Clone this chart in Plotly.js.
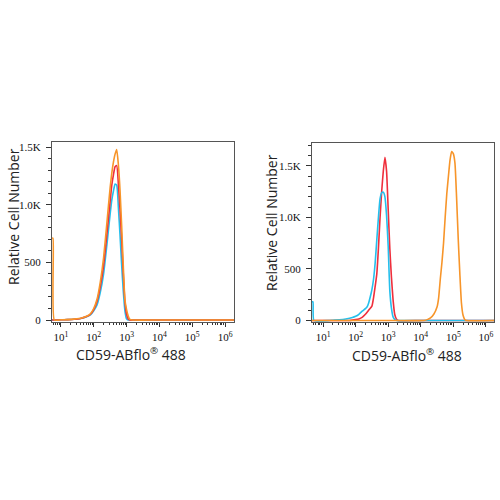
<!DOCTYPE html>
<html>
<head>
<meta charset="utf-8">
<script src="https://cdn.plot.ly/plotly-3.0.1.min.js"></script>
<style>html,body{margin:0;padding:0;background:#fff;}#chart{width:500px;height:500px;}</style>
</head>
<body>
<div id="chart"></div>
<script>
// ---- Data (channel values are log10 of fluorescence intensity) ----
var leftLog = [0.73, 0.76, 0.8, 1.0, 1.2, 1.4, 1.6, 1.8, 1.9, 2.0, 2.1, 2.2, 2.3, 2.4, 2.5, 2.55, 2.6, 2.65, 2.7, 2.75, 2.8, 2.85, 2.9, 2.95, 3.0, 3.05, 3.1, 3.2, 4.0, 5.0, 6.27];
var leftOrange = [710, 710, 0, 2, 4, 8, 15, 35, 55, 100, 180, 330, 540, 840, 1150, 1275, 1370, 1440, 1480, 1350, 1130, 820, 470, 175, 90, 35, 5, 0, 0, 0, 0];
var leftRed    = [0, 0, 0, 2, 4, 7, 14, 32, 50, 90, 160, 290, 470, 740, 1030, 1170, 1260, 1330, 1340, 1180, 960, 700, 400, 160, 50, 10, 0, 0, 0, 0, 0];
var leftCyan   = [0, 0, 0, 2, 4, 7, 13, 30, 45, 80, 130, 240, 400, 650, 920, 1040, 1120, 1180, 1170, 980, 740, 480, 250, 80, 10, 0, 0, 0, 0, 0, 0];

var rightCyanLog = [0.66, 0.69, 0.72, 1.2, 1.3, 1.5, 1.7, 1.9, 2.0, 2.1, 2.2, 2.3, 2.35, 2.4, 2.45, 2.5, 2.55, 2.6, 2.65, 2.7, 2.75, 2.8, 2.85, 2.9, 2.95, 3.0, 3.05, 3.1, 3.15, 3.2, 3.25, 4.0, 5.0, 6.25];
var rightCyan    = [180, 180, 0, 0, 2, 6, 14, 28, 40, 60, 90, 115, 130, 170, 230, 300, 400, 560, 780, 1000, 1180, 1240, 1245, 1200, 1020, 720, 290, 120, 35, 10, 0, 0, 0, 0];
var rightRedLog  = [0.66, 1.8, 1.9, 2.0, 2.1, 2.2, 2.3, 2.4, 2.5, 2.55, 2.6, 2.65, 2.7, 2.75, 2.8, 2.85, 2.9, 2.95, 3.0, 3.05, 3.1, 3.15, 3.2, 3.25, 3.3, 4.0, 5.0, 6.25];
var rightRed     = [0, 0, 3, 8, 15, 30, 60, 100, 140, 220, 330, 450, 700, 1000, 1250, 1450, 1585, 1450, 1080, 700, 420, 200, 60, 15, 0, 0, 0, 0];
var rightOrangeLog = [0.66, 2.0, 3.0, 4.1, 4.2, 4.3, 4.4, 4.5, 4.55, 4.6, 4.65, 4.7, 4.75, 4.8, 4.85, 4.9, 4.95, 5.0, 5.05, 5.1, 5.15, 5.2, 5.25, 5.3, 5.35, 5.4, 6.25];
var rightOrange    = [0, 0, 0, 0, 8, 25, 60, 130, 220, 400, 560, 750, 1000, 1230, 1400, 1560, 1640, 1620, 1530, 1200, 800, 460, 170, 50, 10, 0, 0];

var xTickVals = [10, 100, 1000, 10000, 100000, 1000000];
var xTickText = ['10<sup>1</sup>', '10<sup>2</sup>', '10<sup>3</sup>', '10<sup>4</sup>', '10<sup>5</sup>', '10<sup>6</sup>'];
var yTickVals = [0, 500, 1000, 1500];
var yTickText = ['0', '500', '1.0K', '1.5K'];
var xTitle = 'CD59-ABflo<sup>®</sup> 488';
var yTitle = 'Relative Cell Number';

// ---- Styling ----
var RED = '#ef2f3c', CYAN = '#25bfec', ORANGE = '#f7952a';
function lin(a) { return a.map(function (v) { return Math.pow(10, v); }); }
var minorX = [];
for (var e = 0; e <= 6; e++) for (var m = 2; m <= 9; m++) minorX.push(m * Math.pow(10, e));

function tr(xl, y, color, xa, ya) {
  return { x: lin(xl), y: y, type: 'scatter', mode: 'lines', xaxis: xa, yaxis: ya,
    line: { color: color, width: 1.6, shape: 'spline', smoothing: 0.5 }, hoverinfo: 'skip', showlegend: false };
}
var data = [
  tr(leftLog, leftCyan, CYAN, 'x', 'y'),
  tr(leftLog, leftRed, RED, 'x', 'y'),
  tr(leftLog, leftOrange, ORANGE, 'x', 'y'),
  tr(rightRedLog, rightRed, RED, 'x2', 'y2'),
  tr(rightCyanLog, rightCyan, CYAN, 'x2', 'y2'),
  tr(rightOrangeLog, rightOrange, ORANGE, 'x2', 'y2')
];

var tickFontX = { family: 'Liberation Serif, DejaVu Serif, serif', size: 11, color: '#111' };
var tickFontY = { family: 'Liberation Serif, DejaVu Serif, serif', size: 11, color: '#111' };
function xax(dom, rng, anchor) {
  return { type: 'log', domain: dom, range: rng, anchor: anchor, showline: true, mirror: true,
    linecolor: '#555', linewidth: 1, showgrid: false, zeroline: false, layer: 'below traces',
    tickmode: 'array', tickvals: xTickVals, ticktext: xTickText, ticks: 'outside', ticklen: 4,
    tickcolor: '#333', tickfont: tickFontX, ticklabelstandoff: 1,
    minor: { tickmode: 'array', tickvals: minorX, ticks: 'outside', ticklen: 2, tickcolor: '#333', showgrid: false } };
}
function yax(dom, rng, anchor) {
  return { domain: dom, range: rng, anchor: anchor, showline: true, mirror: true,
    linecolor: '#555', linewidth: 1, showgrid: false, zeroline: false, layer: 'below traces',
    tickmode: 'array', tickvals: yTickVals, ticktext: yTickText, ticks: 'outside', ticklen: 5,
    tickcolor: '#333', tickfont: tickFontY, ticklabelstandoff: 3,
    minor: { dtick: 100, ticks: 'outside', ticklen: 3, tickcolor: '#333', showgrid: false } };
}
var titleFont = { family: 'Open Sans, Noto Sans, sans-serif', size: 14, color: '#222' };
var layout = {
  width: 500, height: 500, margin: { l: 0, r: 0, t: 0, b: 0 },
  paper_bgcolor: '#fff', plot_bgcolor: '#fff',
  xaxis: xax([0.104, 0.468], [0.73, 6.27], 'y'),
  yaxis: yax([0.356, 0.716], [-17, 1545], 'x'),
  xaxis2: xax([0.624, 0.988], [0.66, 6.25], 'y2'),
  yaxis2: yax([0.356, 0.714], [-15, 1723], 'x2'),
  annotations: [
    { text: xTitle, xref: 'paper', yref: 'paper', x: 0.262, y: 0.292, showarrow: false, font: titleFont, xanchor: 'center', yanchor: 'middle' },
    { text: xTitle, xref: 'paper', yref: 'paper', x: 0.814, y: 0.290, showarrow: false, font: titleFont, xanchor: 'center', yanchor: 'middle' },
    { text: yTitle, xref: 'paper', yref: 'paper', x: 0.026, y: 0.566, showarrow: false, font: titleFont, textangle: -90, xanchor: 'center', yanchor: 'middle' },
    { text: yTitle, xref: 'paper', yref: 'paper', x: 0.544, y: 0.554, showarrow: false, font: titleFont, textangle: -90, xanchor: 'center', yanchor: 'middle' }
  ]
};
Plotly.newPlot('chart', data, layout, { staticPlot: true, displayModeBar: false });
</script>
</body>
</html>
